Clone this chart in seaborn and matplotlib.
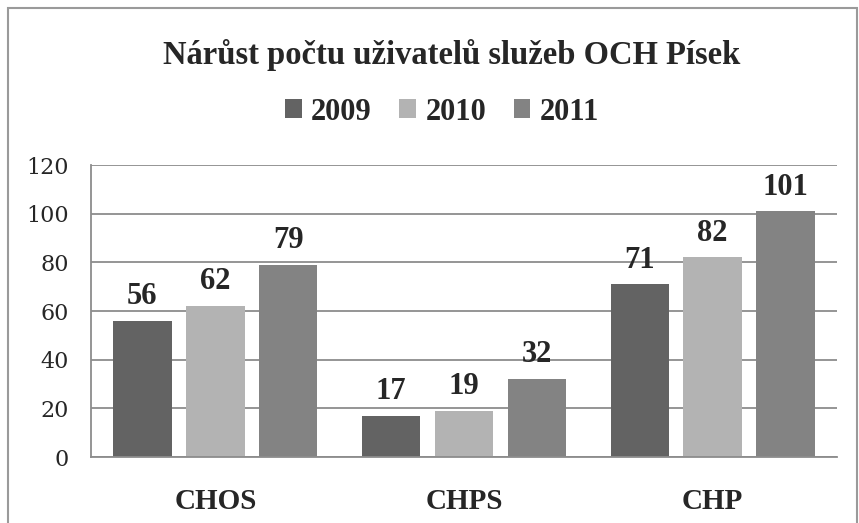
import pandas as pd
import matplotlib.pyplot as plt
import seaborn as sns
from matplotlib.patches import Rectangle

categories = ["CHOS", "CHPS", "CHP"]
years = ["2009", "2010", "2011"]
values_2009 = [56, 17, 71]
values_2010 = [62, 19, 82]
values_2011 = [79, 32, 101]

df = pd.DataFrame({
    "kategorie": categories * 3,
    "rok": [y for y in years for _ in categories],
    "pocet": values_2009 + values_2010 + values_2011,
})

sns.set_style("white")
plt.rcParams["font.family"] = ["Liberation Serif", "DejaVu Serif"]

colors = ["#636363", "#b3b3b3", "#838383"]
grid_col = "#8c8c8c"

fig = plt.figure(figsize=(8.59, 5.23), dpi=100)
ax = fig.add_axes([91 / 859, 66 / 523, 746 / 859, 292 / 523])

sns.barplot(data=df, x="kategorie", y="pocet", hue="rok", palette=colors,
            width=0.88, gap=0.2, ax=ax, saturation=1, edgecolor="none")

for c in ax.containers:
    ax.bar_label(c, fontsize=22, fontweight="bold", padding=7)

ax.set_ylim(0, 120)
ax.set_yticks(range(0, 121, 20))
ax.set_xlabel("")
ax.set_ylabel("")
ax.yaxis.grid(True, color=grid_col, linewidth=1.3)
ax.set_axisbelow(True)
for s in ["top", "right"]:
    ax.spines[s].set_visible(False)
for s in ["left", "bottom"]:
    ax.spines[s].set_color(grid_col)
    ax.spines[s].set_linewidth(1.3)
ax.tick_params(axis="y", labelsize=16, length=0, pad=16)
ax.tick_params(axis="x", labelsize=21, length=0, pad=22)
for lbl in ax.get_yticklabels():
    lbl.set_fontfamily("DejaVu Serif")
for lbl in ax.get_xticklabels():
    lbl.set_fontweight("bold")

handles, labels = ax.get_legend_handles_labels()
ax.legend(handles, labels, ncol=3, loc="center", bbox_to_anchor=(442 / 859, 1 - 112 / 523),
          bbox_transform=fig.transFigure, frameon=False, handlelength=0.55,
          handleheight=0.55, handletextpad=0.3, columnspacing=0.9,
          prop={"size": 22, "weight": "bold"})

fig.text(452 / 859, 1 - 55 / 523, "Nárůst počtu uživatelů služeb OCH Písek",
         ha="center", va="center", fontsize=23.5, fontweight="bold")

fig.patches.append(Rectangle((8 / 859, -0.1), 849 / 859, 1.1 - 8 / 523,
                             transform=fig.transFigure, fill=False,
                             edgecolor="#9a9a9a", linewidth=1.5))

fig.savefig("out.png", dpi=100)
